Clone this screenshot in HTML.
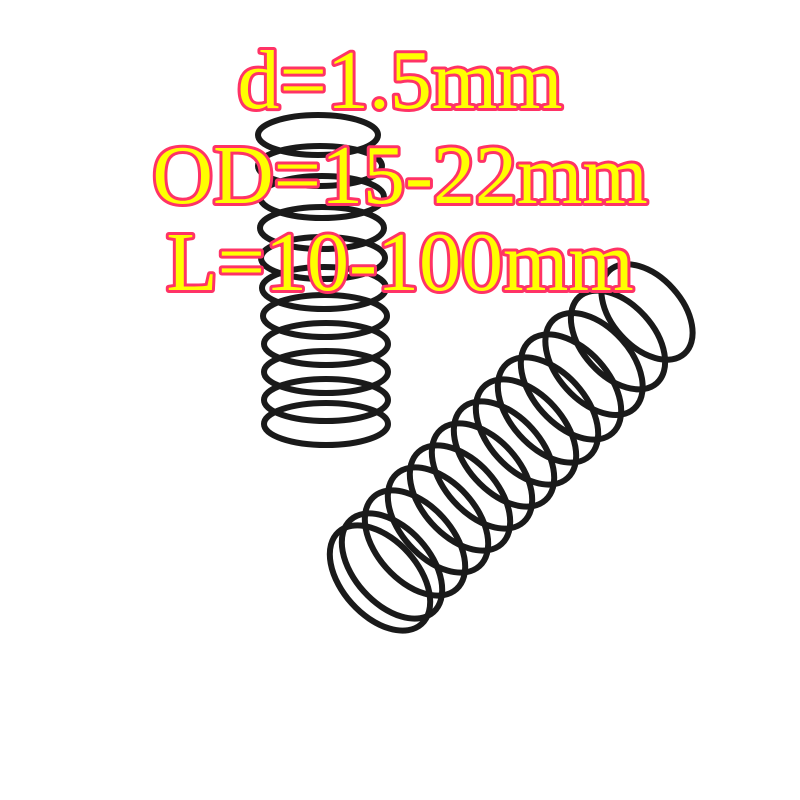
<!DOCTYPE html>
<html><head><style>body{margin:0;background:#fff}svg{display:block}</style></head>
<body>
<svg width="800" height="800" viewBox="0 0 800 800">
<g fill="none" stroke="#1a1a1a" stroke-width="6">
<ellipse cx="318" cy="135" rx="60" ry="20"/>
<ellipse cx="320" cy="166" rx="62" ry="20"/>
<ellipse cx="322" cy="197" rx="62" ry="21"/>
<ellipse cx="322" cy="228" rx="62" ry="21"/>
<ellipse cx="323" cy="258" rx="62" ry="21"/>
<ellipse cx="324" cy="288" rx="62" ry="21"/>
<ellipse cx="325" cy="316" rx="62" ry="21"/>
<ellipse cx="326" cy="344" rx="62" ry="21"/>
<ellipse cx="326" cy="372" rx="62" ry="21"/>
<ellipse cx="326" cy="400" rx="62" ry="21"/>
<ellipse cx="326" cy="424" rx="62" ry="21"/>
</g>
<g fill="none" stroke="#1a1a1a" stroke-width="6">
<ellipse cx="380" cy="578" rx="62" ry="38" transform="rotate(48 380 578)"/>
<ellipse cx="392" cy="566" rx="62" ry="38" transform="rotate(48 392 566)"/>
<ellipse cx="415" cy="543" rx="62" ry="38" transform="rotate(48 415 543)"/>
<ellipse cx="438" cy="520" rx="62" ry="38" transform="rotate(48 438 520)"/>
<ellipse cx="460" cy="498" rx="62" ry="38" transform="rotate(48 460 498)"/>
<ellipse cx="482" cy="476" rx="62" ry="38" transform="rotate(48 482 476)"/>
<ellipse cx="504" cy="454" rx="62" ry="38" transform="rotate(48 504 454)"/>
<ellipse cx="526" cy="432" rx="62" ry="38" transform="rotate(48 526 432)"/>
<ellipse cx="548" cy="410" rx="62" ry="38" transform="rotate(48 548 410)"/>
<ellipse cx="571" cy="387" rx="62" ry="38" transform="rotate(48 571 387)"/>
<ellipse cx="594" cy="364" rx="60" ry="37" transform="rotate(48 594 364)"/>
<ellipse cx="618" cy="340" rx="58" ry="36" transform="rotate(48 618 340)"/>
<ellipse cx="647" cy="312" rx="56" ry="35" transform="rotate(48 647 312)"/>
</g>
<g font-family="Liberation Serif, serif" font-size="84" fill="#ffff00" stroke="#ff3366" stroke-width="6" paint-order="stroke" text-anchor="middle" stroke-linejoin="round">
<text x="400" y="108">d=1.5mm</text>
<text x="400" y="203">OD=15-22mm</text>
<text x="400" y="290">L=10-100mm</text>
</g>
</svg>
</body></html>
